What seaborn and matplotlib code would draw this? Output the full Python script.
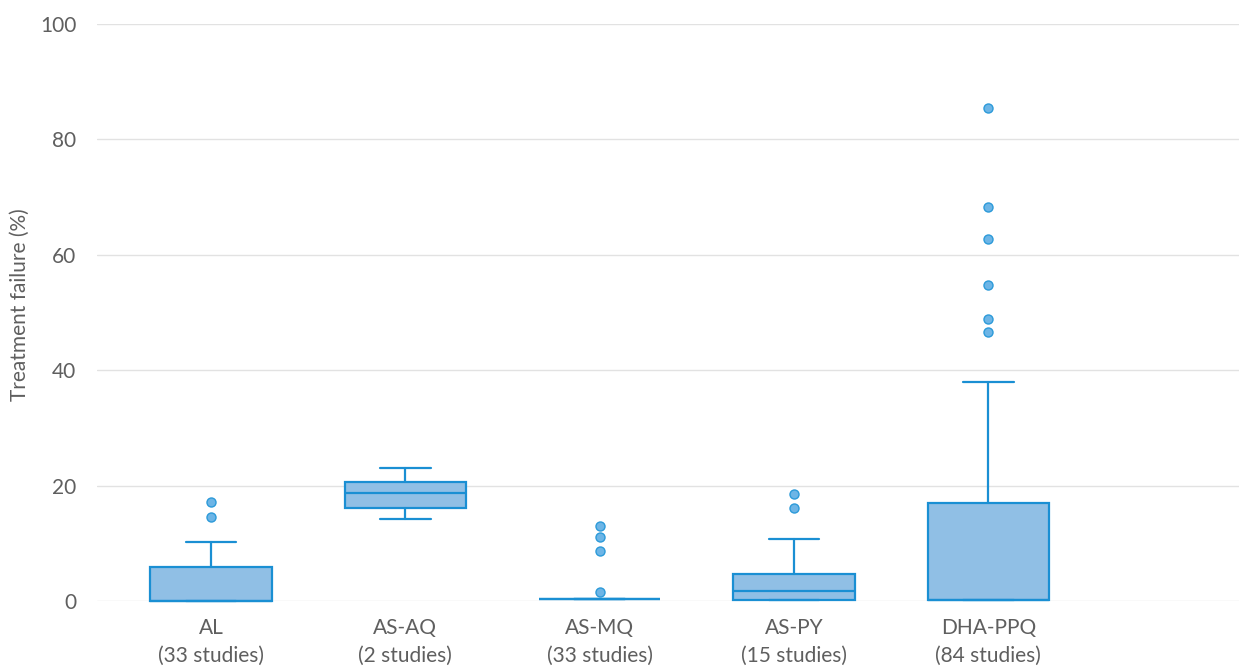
import matplotlib
matplotlib.use("Agg")
import matplotlib.pyplot as plt
import seaborn as sns
import numpy as np

# ---- data ----
drugs = ["AL", "AS-AQ", "AS-MQ", "AS-PY", "DHA-PPQ"]
n_studies = [33, 2, 33, 15, 84]
whisker_low = [0.0, 14.2, 0.35, 0.2, 0.2]
q1 = [0.0, 16.1, 0.35, 0.2, 0.2]
median = [0.0, 18.7, 0.35, 1.8, 0.2]
q3 = [5.9, 20.6, 0.35, 4.6, 17.0]
whisker_high = [10.2, 23.0, 0.35, 10.7, 38.0]
outliers = [
    [14.6, 17.2],
    [],
    [1.6, 8.7, 11.1, 13.0],
    [16.1, 18.5],
    [46.6, 48.9, 54.8, 62.7, 68.3, 85.4],
]
tick_labels = [f"{d}\n({n} studies)" for d, n in zip(drugs, n_studies)]
yticks = [0, 20, 40, 60, 80, 100]

# ---- style ----
sns.set_theme(style="whitegrid")
plt.rcParams["font.family"] = ["Lato", "DejaVu Sans"]

edge = "#1A8FD3"
fill = "#90BFE5"
text_col = "#5F5F5F"
fs = 15

fig = plt.figure(figsize=(12.39, 6.66), dpi=100)
ax = fig.add_axes([97 / 1239, 1 - 601 / 666, 1 - 97 / 1239, (601 - 24) / 666])

stats = []
for i in range(len(drugs)):
    stats.append(dict(med=median[i], q1=q1[i], q3=q3[i],
                      whislo=whisker_low[i], whishi=whisker_high[i],
                      fliers=np.array(outliers[i]), label=tick_labels[i]))

art = ax.bxp(stats, positions=range(len(drugs)), widths=0.625, capwidths=0.26,
             patch_artist=True, showfliers=True,
             boxprops=dict(facecolor=fill, edgecolor=edge, linewidth=1.6),
             medianprops=dict(color=edge, linewidth=1.6),
             whiskerprops=dict(color=edge, linewidth=1.6),
             capprops=dict(color=edge, linewidth=1.6),
             flierprops=dict(marker="o", markersize=6.5, markerfacecolor="#6DB5E6",
                             markeredgecolor="#2C9AD9", markeredgewidth=1.0,
                             linestyle="none"))
for key in art:
    for a in art[key]:
        a.set_clip_on(False)

ax.set_xlim(-0.587, 5.29)
ax.set_ylim(0, 100)
ax.set_yticks(yticks)
ax.set_yticklabels([str(v) for v in yticks])
ax.grid(axis="y", color="#E2E2E2", linewidth=1.0)
ax.grid(axis="x", visible=False)
ax.set_axisbelow(True)
sns.despine(ax=ax, left=True, bottom=True)
ax.set_facecolor("white")

ax.tick_params(axis="y", length=0, pad=15, labelsize=fs, labelcolor=text_col)
ax.tick_params(axis="x", length=0, pad=12, labelsize=fs, labelcolor=text_col)
for lbl in ax.get_xticklabels():
    lbl.set_linespacing(1.5)
fig.text(20 / 1239, 1 - 305 / 666, "Treatment failure (%)", rotation=90,
         ha="center", va="center", fontsize=fs, color=text_col)

fig.savefig("out.png", dpi=100, facecolor="white")
